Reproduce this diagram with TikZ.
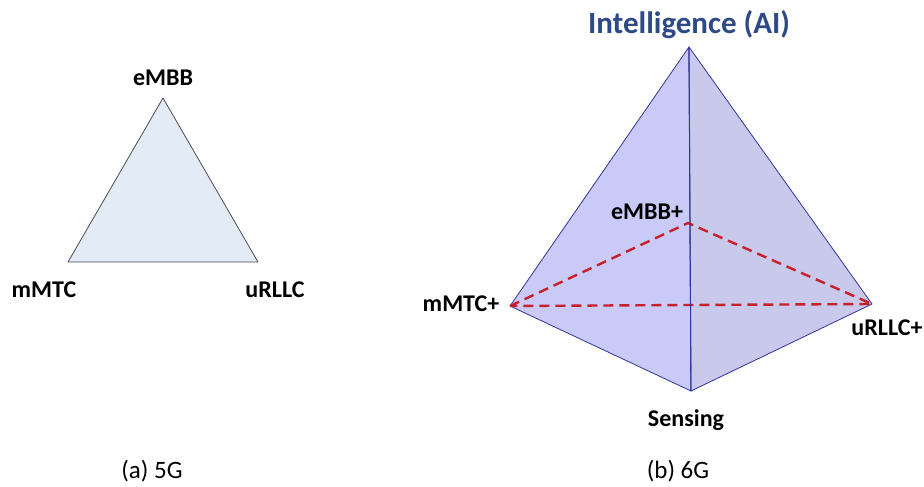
\documentclass[tikz,border=0pt]{standalone}
\usepackage{fontspec}
\setmainfont{Carlito}

\definecolor{triFill}{HTML}{E3EBF6}
\definecolor{leftFace}{HTML}{CACAF8}
\definecolor{rightFace}{HTML}{C9C9EC}
\definecolor{edgeBlue}{HTML}{33339A}
\definecolor{dashRed}{HTML}{C8202A}
\definecolor{titleBlue}{HTML}{2E4A86}

\tikzset{
  vlabel/.style={font=\fontsize{24}{26}\selectfont\bfseries, inner sep=0pt},
  caption/.style={font=\fontsize{25}{27}\selectfont, inner sep=0pt},
  face/.style={draw=edgeBlue, line width=0.8pt, line join=round},
  plane/.style={draw=dashRed, line width=2.4pt, dash pattern=on 10pt off 6pt}
}

\begin{document}
\begin{tikzpicture}[x=1pt,y=-1pt]
\useasboundingbox (0,0) rectangle (924,487);
% (a) 5G
\coordinate (eMBB) at (163,98);
\coordinate (mMTC) at (68,262);
\coordinate (uRLLC) at (258,262);
\path[fill=triFill, draw=black!70, line width=0.8pt, line join=round] (eMBB) -- (mMTC) -- (uRLLC) -- cycle;
\node[vlabel] (l1) at (163,78) {eMBB};
\node[vlabel] (l2) at (44,290) {mMTC};
\node[vlabel] (l3) at (275,290) {uRLLC};
\node[caption] (c1) at (152,471) {(a) 5G};
% (b) 6G
\coordinate (AI) at (689,47);
\coordinate (eMBBp) at (688,223);
\coordinate (mMTCp) at (510,306);
\coordinate (uRLLCp) at (872,304);
\coordinate (Sens) at (691,391);
\path[face, fill=leftFace] (AI) -- (mMTCp) -- (Sens) -- cycle;
\path[face, fill=rightFace] (AI) -- (Sens) -- (uRLLCp) -- cycle;
\path[plane] (mMTCp) -- (eMBBp) -- (uRLLCp) -- cycle;
\path[draw=edgeBlue, line width=1pt] (AI) -- (Sens);
\node[font=\fontsize{31}{33}\selectfont\bfseries, text=titleBlue, inner sep=0pt] (t) at (689,25) {Intelligence (AI)};
\node[vlabel] (l4) at (647,212) {eMBB+};
\node[vlabel] (l5) at (461,304) {mMTC+};
\node[vlabel] (l6) at (887,328) {uRLLC+};
\node[vlabel] (l7) at (686,420) {Sensing};
\node[caption] (c2) at (678,471) {(b) 6G};
\end{tikzpicture}
\end{document}
